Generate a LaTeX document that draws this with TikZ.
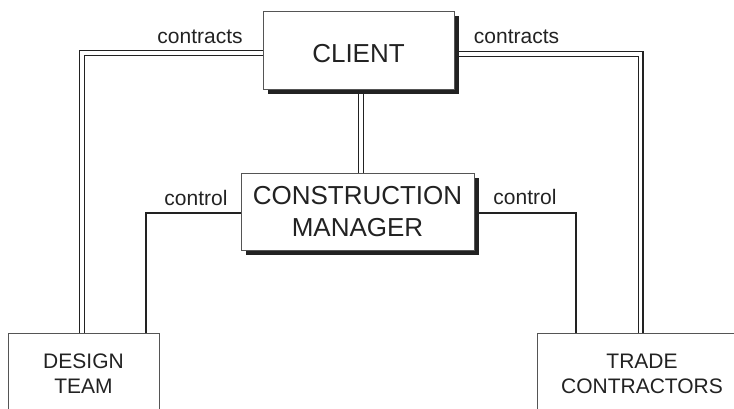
\documentclass[tikz,border=0pt]{standalone}
\usepackage{fontspec}
\setmainfont{Liberation Sans}
\usetikzlibrary{shadows,backgrounds}
\definecolor{ink}{HTML}{222222}
\definecolor{rim}{HTML}{555555}
\begin{document}
\begin{tikzpicture}[x=1pt,y=-1pt,
  box/.style={draw=rim,line width=0.9pt,fill=white,inner sep=0pt,align=center,text=ink},
  shbox/.style={box,drop shadow={shadow xshift=4.5pt,shadow yshift=-4.5pt,fill=ink,opacity=1}},
  bigtxt/.style={font=\fontsize{26}{32}\selectfont},
  smalltxt/.style={font=\fontsize{21}{25}\selectfont},
  dbl/.style={draw=ink,line width=1.2pt,double=white,double distance=3.6pt},
  sgl/.style={draw=ink,line width=1.1pt},
  lbl/.style={anchor=base,inner sep=0pt,text=ink,font=\fontsize{21}{25}\selectfont}]
\useasboundingbox (0,0) rectangle (734,408);
% boxes
\node[shbox,bigtxt,minimum width=191pt,minimum height=78pt,text height=24.6pt] (client) at (358.5,50) {CLIENT};
\node[shbox,bigtxt,minimum width=233pt,minimum height=77pt] (cm) at (357.5,211.5) {CONSTRUCTION\\MANAGER};
\node[box,smalltxt,minimum width=151pt,minimum height=81pt] (design) at (83.5,373.5) {DESIGN\\TEAM};
\node[box,smalltxt,minimum width=210pt,minimum height=81pt] (trade) at (642,373.5) {TRADE\\CONTRACTORS};
% labels
\node[lbl] (c1) at (200,43) {contracts};
\node[lbl] (c2) at (516.5,43) {contracts};
\node[lbl] (k1) at (196,205) {control};
\node[lbl] (k2) at (525,204) {control};
% bend points
\coordinate (lc) at (81.8,53);
\coordinate (rc) at (640.5,54);
\coordinate (vc) at (361,0);
\coordinate (lk) at (146,213);
\coordinate (rk) at (576,213);
% connectors behind the boxes
\begin{scope}[on background layer]
\draw[dbl] (client.west |- lc) -- (lc) -- (lc |- design.north);
\draw[dbl] (client.east |- rc) -- (rc) -- (rc |- trade.north);
\draw[dbl] (client.south -| vc) -- (cm.north -| vc);
\draw[sgl] (cm.west |- lk) -- (lk) -- (lk |- design.north);
\draw[sgl] ([xshift=4pt]cm.east |- rk) -- (rk) -- (rk |- trade.north);
\end{scope}
\end{tikzpicture}
\end{document}
